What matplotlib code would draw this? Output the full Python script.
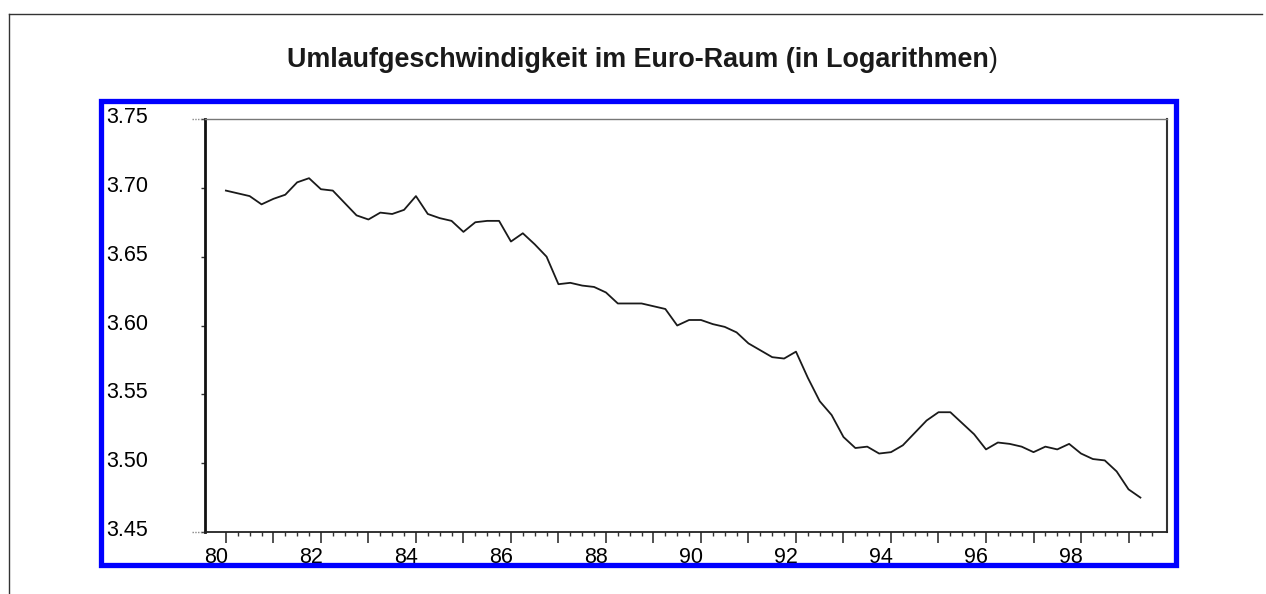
import numpy as np
import matplotlib.pyplot as plt
import matplotlib.transforms as mtransforms
from matplotlib.patches import Rectangle
from matplotlib.lines import Line2D
from matplotlib.ticker import FixedLocator

plt.rcParams['font.family'] = ['Liberation Sans', 'DejaVu Sans']

# Quartalswerte ab 1980 Q1 (log. Umlaufgeschwindigkeit)
start_year = 80
velocity = [
    3.698, 3.696, 3.694, 3.688,   # 80
    3.692, 3.695, 3.704, 3.707,   # 81
    3.699, 3.698, 3.689, 3.680,   # 82
    3.677, 3.682, 3.681, 3.684,   # 83
    3.694, 3.681, 3.678, 3.676,   # 84
    3.668, 3.675, 3.676, 3.676,   # 85
    3.661, 3.667, 3.659, 3.650,   # 86
    3.630, 3.631, 3.629, 3.628,   # 87
    3.624, 3.616, 3.616, 3.616,   # 88
    3.614, 3.612, 3.600, 3.604,   # 89
    3.604, 3.601, 3.599, 3.595,   # 90
    3.587, 3.582, 3.577, 3.576,   # 91
    3.581, 3.562, 3.545, 3.535,   # 92
    3.519, 3.511, 3.512, 3.507,   # 93
    3.508, 3.513, 3.522, 3.531,   # 94
    3.537, 3.537, 3.529, 3.521,   # 95
    3.510, 3.515, 3.514, 3.512,   # 96
    3.508, 3.512, 3.510, 3.514,   # 97
    3.507, 3.503, 3.502, 3.494,   # 98
    3.481, 3.475,                 # 99
]
year_ticks = list(range(80, 100))
year_labels = [str(y) if y % 2 == 0 else '' for y in year_ticks]
y_ticks = [3.45, 3.50, 3.55, 3.60, 3.65, 3.70, 3.75]
y_labels = ['3.45', '3.50', '3.55', '3.60', '3.65', '3.70', '3.75']

W, H = 1266, 594
fig = plt.figure(figsize=(W / 100, H / 100), dpi=100)

# Achsenbereich in Pixeln
left, right, top, bottom = 205, 1167, 119, 532
ax = fig.add_axes([left / W, 1 - bottom / H, (right - left) / W, (bottom - top) / H])

t = start_year + np.arange(len(velocity)) / 4
ax.plot(t, velocity, color='#1a1a1a', lw=1.3)

ax.set_xlim(79.56, 99.81)
ax.set_ylim(3.45, 3.75)

ax.set_xticks(year_ticks)
ax.set_xticklabels(year_labels)
quarters = [q for q in np.arange(80, 99.51, 0.25) if q % 1 != 0]
ax.xaxis.set_minor_locator(FixedLocator(quarters))
ax.set_yticks(y_ticks)
ax.set_yticklabels(y_labels)

ax.tick_params(axis='x', which='major', direction='out', length=8, width=1.1,
               color='#222222', labelsize=15.5, pad=2.5)
ax.tick_params(axis='x', which='minor', direction='out', length=3, width=1,
               color='#333333')
ax.tick_params(axis='y', which='major', direction='out', length=3, width=1,
               color='#333333', labelsize=15.5, pad=38)

# Beschriftungen leicht verschoben
dx = mtransforms.ScaledTranslation(-10 / 100, 0, fig.dpi_scale_trans)
for lab in ax.get_xticklabels():
    lab.set_transform(lab.get_transform() + dx)
dy = mtransforms.ScaledTranslation(0, 4 / 100, fig.dpi_scale_trans)
for lab in ax.get_yticklabels():
    lab.set_transform(lab.get_transform() + dy)

ax.spines['left'].set_linewidth(2)
ax.spines['left'].set_color('#111111')
ax.spines['bottom'].set_linewidth(1.3)
ax.spines['bottom'].set_color('#222222')
ax.spines['right'].set_linewidth(1.5)
ax.spines['right'].set_color('#333333')
ax.spines['top'].set_linewidth(1)
ax.spines['top'].set_color('#777777')

# kurze Verlaengerungen links der y-Achse
for yy in (0, 1):
    ax.plot([-0.014, 0], [yy, yy], transform=ax.transAxes, clip_on=False,
            color='#888888', lw=1, ls=(0, (1, 1)))

# blauer Rahmen um das Diagramm
fig.add_artist(Rectangle((100.5 / W, 1 - 565 / H), (1176 - 100.5) / W, (565 - 101.3) / H,
                         transform=fig.transFigure, fill=False,
                         ec='#0000ff', lw=3.8))

# aeusserer Rahmen
fig.add_artist(Line2D([8.5 / W, 8.5 / W], [1 - 13.5 / H, 0], transform=fig.transFigure,
                      color='#333333', lw=1))
fig.add_artist(Line2D([8.5 / W, 1262 / W], [1 - 13.5 / H, 1 - 13.5 / H],
                      transform=fig.transFigure, color='#333333', lw=1))

t1 = fig.text(287 / W, 1 - 67 / H, 'Umlaufgeschwindigkeit im Euro-Raum (in Logarithmen',
              fontsize=19.4, fontweight='bold', va='baseline', color='#1a1a1a')
ax.annotate(')', xy=(1, 0), xycoords=t1, va='bottom', ha='left',
            fontsize=19.4, color='#1a1a1a', annotation_clip=False)

fig.savefig('out.png', dpi=100)
